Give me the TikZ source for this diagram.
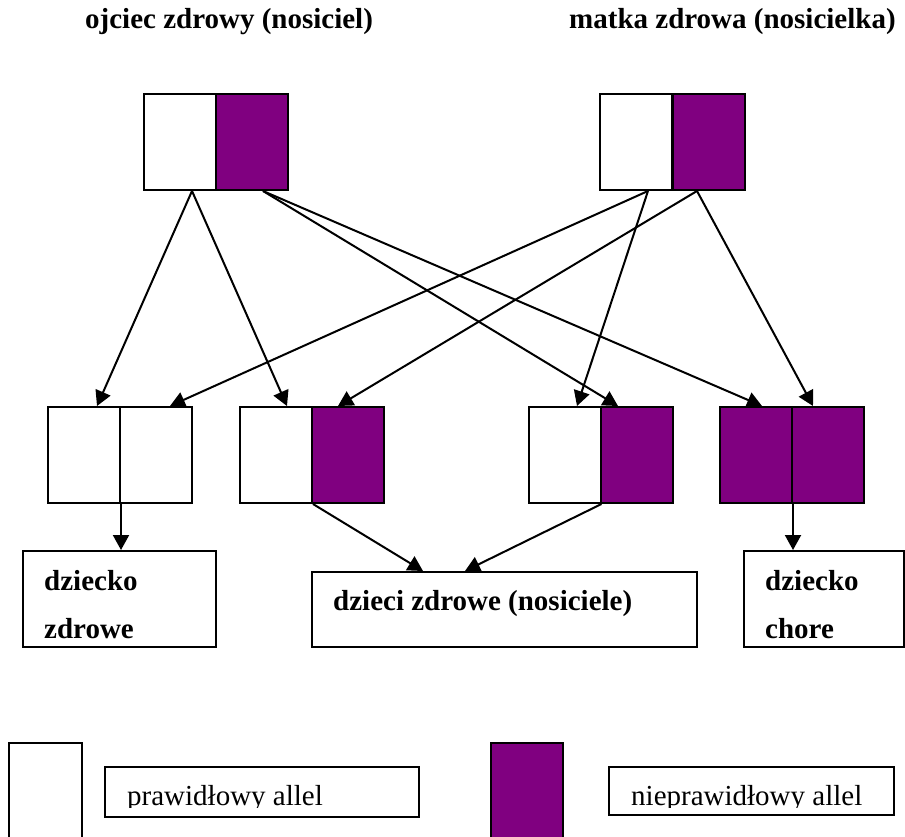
\documentclass[tikz,border=0pt]{standalone}
\usepackage{fontspec}
\setmainfont{Liberation Serif}
\usetikzlibrary{arrows.meta,positioning}
\definecolor{allelpurple}{RGB}{128,0,128}

\begin{document}
\begin{tikzpicture}[x=1pt, y=-1pt,
  allel/.style={rectangle, draw, line width=2pt, minimum width=72pt, minimum height=96pt, inner sep=0pt},
  badallel/.style={allel, fill=allelpurple},
  outbox/.style={rectangle, draw, line width=2pt, inner sep=0pt},
  arrow/.style={-{Triangle[length=15pt, width=16pt]}, line width=2pt},
  boxtext/.style={font=\fontsize{29}{35}\selectfont\bfseries, inner sep=0pt, anchor=base west},
  legtext/.style={font=\fontsize{29}{35}\selectfont, inner sep=0pt, anchor=base west},
]
\useasboundingbox (0,0) rectangle (905,836);

% === Parents ===
\node[boxtext] (ojciec) at (85,28) {ojciec zdrowy (nosiciel)};
\node[boxtext] (matka) at (569,28) {matka zdrowa (nosicielka)};

\node[allel] (fa) at (180,142) {};
\node[badallel] (fb) at (252,142) {};
\node[allel] (ma) at (636,142) {};
\node[badallel] (mb) at (708.5,142) {};

% === Children ===
\node[allel] (c1a) at (84,455) {};
\node[allel] (c1b) at (156,455) {};
\node[allel] (c2a) at (276,455) {};
\node[badallel] (c2b) at (348,455) {};
\node[allel] (c3a) at (564.5,455) {};
\node[badallel] (c3b) at (636.5,455) {};
\node[badallel] (c4a) at (756,455) {};
\node[badallel] (c4b) at (828,455) {};

\draw[arrow] ([xshift=12pt]fa.south) -- ([xshift=13pt]c1a.north);
\draw[arrow] ([xshift=12pt]fa.south) -- ([xshift=11pt]c2a.north);
\draw[arrow] ([xshift=11pt]fb.south) -- ([xshift=-18.5pt]c3b.north);
\draw[arrow] ([xshift=11pt]fb.south) -- ([xshift=6pt]c4a.north);
\draw[arrow] ([xshift=12pt]ma.south) -- ([xshift=14pt]c1b.north);
\draw[arrow] ([xshift=12pt]ma.south) -- ([xshift=12.5pt]c3a.north);
\draw[arrow] ([xshift=-11.5pt]mb.south) -- ([xshift=-10pt]c2b.north);
\draw[arrow] ([xshift=-11.5pt]mb.south) -- ([xshift=-15pt]c4b.north);

% === Outcomes ===
\node[outbox, minimum width=193pt, minimum height=96pt] (zdrowe) at (119.5,599) {};
\node[outbox, minimum width=385pt, minimum height=75pt] (nosiciele) at (504.5,609.5) {};
\node[outbox, minimum width=160pt, minimum height=96pt] (chore) at (824,599) {};

\begin{scope}
  \clip (zdrowe.north west) rectangle ([yshift=7pt]zdrowe.south east);
  \node[boxtext] (dz1) at (44,590) {dziecko};
  \node[boxtext] (dz2) at (44,638) {zdrowe};
\end{scope}
\node[boxtext] (dz3) at (333,610) {dzieci zdrowe (nosiciele)};
\begin{scope}
  \clip (chore.north west) rectangle ([yshift=7pt]chore.south east);
  \node[boxtext] (dz4) at (765,590) {dziecko};
  \node[boxtext] (dz5) at (765,638) {chore};
\end{scope}

\draw[arrow] (c1a.south east) -- (zdrowe.north -| c1a.south east);
\draw[arrow] (c2a.south east) -- ([xshift=-81.5pt]nosiciele.north);
\draw[arrow] (c3a.south east) -- ([xshift=-39.5pt]nosiciele.north);
\draw[arrow] (c4a.south east) -- (chore.north -| c4a.south east);

% === Legend ===
\node[allel, minimum width=73pt, minimum height=120pt] (legN) at (45.5,803) {};
\node[outbox, minimum width=314pt, minimum height=50pt] (legNtxt) at (262,792) {};
\node[badallel, minimum height=120pt] (legP) at (527,803) {};
\node[outbox, minimum width=285pt, minimum height=48pt] (legPtxt) at (751.5,791) {};

\begin{scope}
  \clip (legNtxt.north west) rectangle ([yshift=11pt]legNtxt.south east);
  \node[legtext] (prawid) at (127,805) {prawidłowy allel};
\end{scope}
\begin{scope}
  \clip (legPtxt.north west) rectangle ([yshift=9pt]legPtxt.south east);
  \node[legtext] (nieprawid) at (631,805) {nieprawidłowy allel};
\end{scope}

\end{tikzpicture}
\end{document}
